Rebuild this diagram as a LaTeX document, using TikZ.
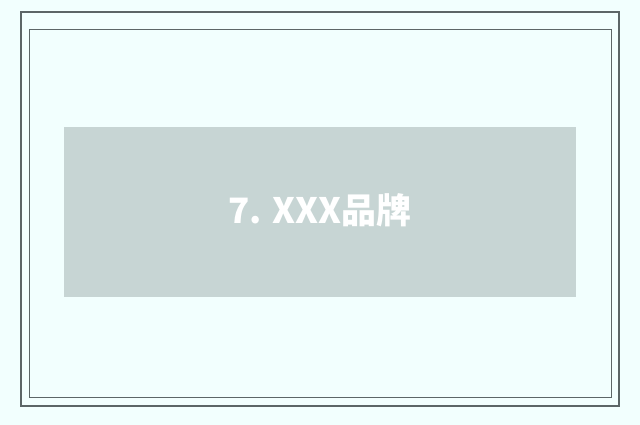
\documentclass[tikz,border=0pt]{standalone}
\usepackage{fontspec}
\newfontfamily\cjk{Noto Sans CJK SC}
\definecolor{pagebg}{HTML}{F2FFFE}
\definecolor{frameline}{HTML}{5C6667}
\definecolor{boxfill}{HTML}{C7D5D4}
\tikzset{
  frame/.style={draw=frameline, line width=1.2pt},
  titlebox/.style={fill=boxfill, minimum width=512pt, minimum height=170pt, inner sep=0pt},
}
\begin{document}
\begin{tikzpicture}[x=1pt,y=1pt]
  \fill[pagebg] (0,0) rectangle (640,425);
  \useasboundingbox (0,0) rectangle (640,425);

  % frames
  \draw[frame] (21,19) rectangle (619,413);
  \draw[frame, line width=0.8pt] (29,28) rectangle (611,396);

  \node[titlebox] (title) at (320,213) {};
  \node[text=white, font=\cjk\bfseries\fontsize{35}{40}\selectfont] (label) at ([yshift=2pt]title.center) {7. XXX品牌};
\end{tikzpicture}
\end{document}
